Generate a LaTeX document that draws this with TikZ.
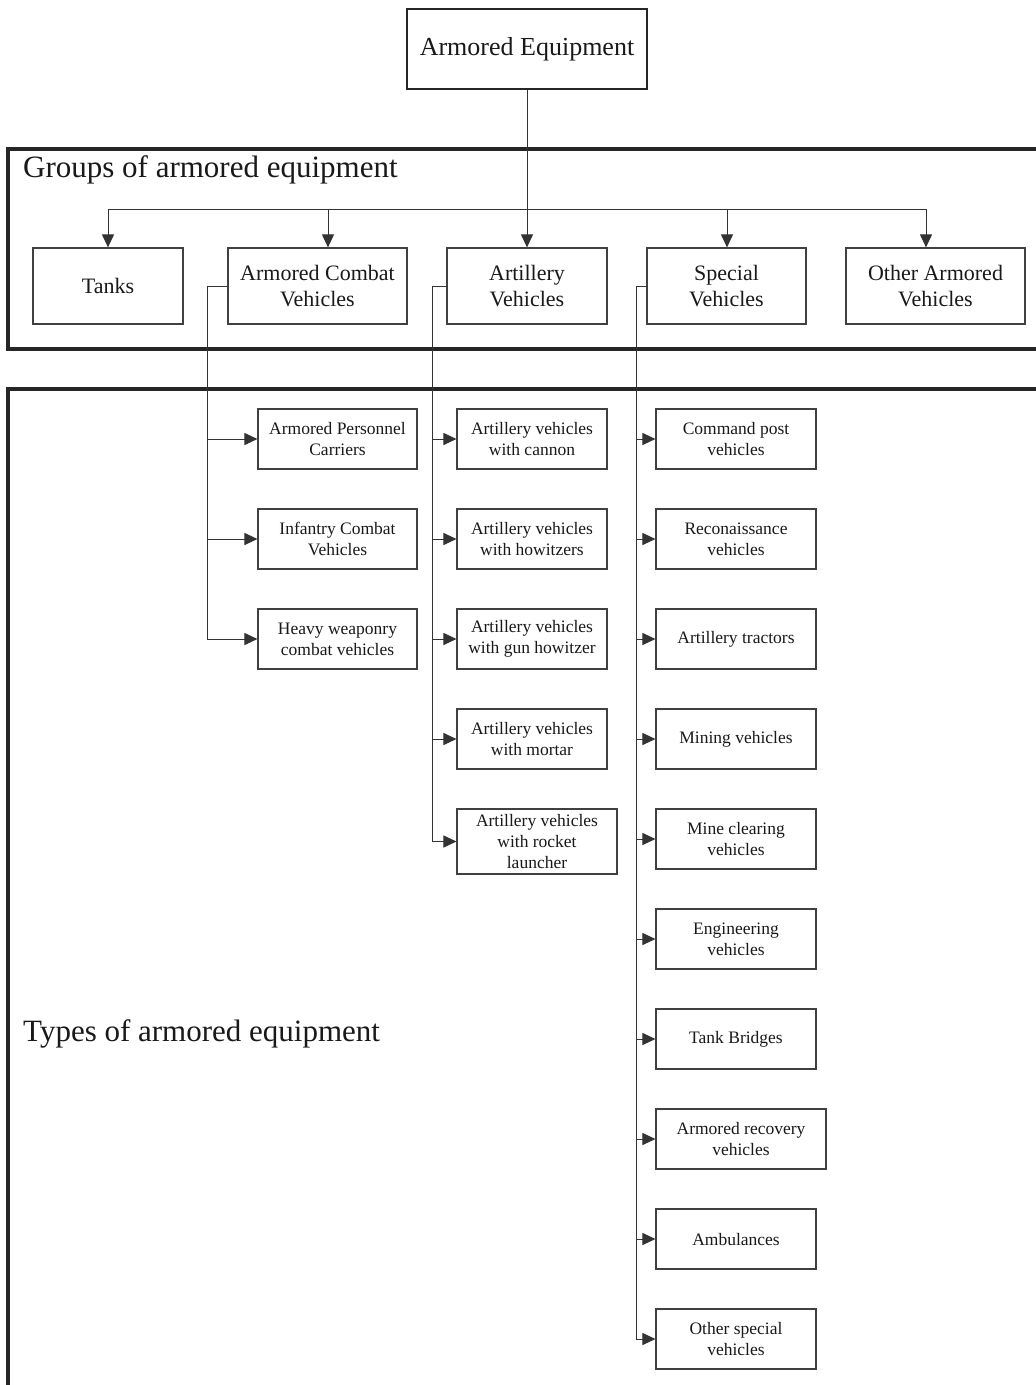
\documentclass[tikz,border=0pt]{standalone}
\usepackage{fontspec}
\setmainfont{Liberation Serif}
\usetikzlibrary{arrows.meta}

\begin{document}
\begin{tikzpicture}[x=1pt,y=-1pt]
        \tikzstyle{every node}+=[inner sep=0pt, text=black!90]
        \tikzstyle{grp}=[draw=black!75, line width=1.2pt, minimum height=76pt, align=center, font=\fontsize{22pt}{26pt}\selectfont]
        \tikzstyle{kind}=[draw=black!75, line width=1.1pt, minimum width=160pt, minimum height=60pt, align=center, font=\fontsize{17.5pt}{20.8pt}\selectfont]
        \tikzstyle{link}=[black!80, line width=1pt]
        \tikzstyle{arr}=[link, -{Triangle[length=13pt,width=12pt]}]
        \tikzstyle{frame}=[black!85, line width=3.2pt]
        \tikzstyle{caption}=[anchor=base west, font=\fontsize{31pt}{37pt}\selectfont]
        \useasboundingbox (0,0) rectangle (1036,1385);
        % frames
        \draw [frame] (1036,149) -- (8,149) -- (8,349) -- (1036,349);
        \draw [frame] (1036,389) -- (8,389) -- (8,1390);
        \node [caption] (grpcap) at (23,177) {Groups of armored equipment};
        \node [caption] (typcap) at (23,1041) {Types of armored equipment};
        % top
        \node [draw=black!85, line width=1.8pt, minimum width=240pt, minimum height=80pt, font=\fontsize{26pt}{31pt}\selectfont] (arm) at (527,49) {Armored Equipment};
        % groups
        \node [grp, minimum width=150pt] (tnk) at (108,286) {Tanks};
        \node [grp, minimum width=179pt] (acv) at (317.5,286) {Armored Combat\\Vehicles};
        \node [grp, minimum width=160pt] (art) at (527,286) {Artillery\\Vehicles};
        \node [grp, minimum width=159pt] (spv) at (726.5,286) {Special\\Vehicles};
        \node [grp, minimum width=179pt] (oav) at (935.5,286) {Other Armored\\Vehicles};
        % types
        \node [kind, minimum width=159pt] (apc) at (337.5,439) {Armored Personnel\\Carriers};
        \node [kind, minimum width=159pt] (icv) at (337.5,539) {Infantry Combat\\Vehicles};
        \node [kind, minimum width=159pt] (hwc) at (337.5,639) {Heavy weaponry\\combat vehicles};
        \node [kind, minimum width=150pt] (avc) at (532,439) {Artillery vehicles\\with cannon};
        \node [kind, minimum width=150pt] (avh) at (532,539) {Artillery vehicles\\with howitzers};
        \node [kind, minimum width=150pt] (avg) at (532,639) {Artillery vehicles\\with gun howitzer};
        \node [kind, minimum width=150pt] (avm) at (532,739) {Artillery vehicles\\with mortar};
        \node [kind, minimum height=65pt] (avr) at (537,841.5) {Artillery vehicles\\with rocket\\launcher};
        \node [kind] (cpv) at (736,439) {Command post\\vehicles};
        \node [kind] (rcv) at (736,539) {Reconaissance\\vehicles};
        \node [kind] (atr) at (736,639) {Artillery tractors};
        \node [kind] (mnv) at (736,739) {Mining vehicles};
        \node [kind] (mcv) at (736,839) {Mine clearing\\vehicles};
        \node [kind] (env) at (736,939) {Engineering\\vehicles};
        \node [kind] (tbr) at (736,1039) {Tank Bridges};
        \node [kind, minimum width=170pt] (arv) at (741,1139) {Armored recovery\\vehicles};
        \node [kind] (amb) at (736,1239) {Ambulances};
        \node [kind] (osv) at (736,1339) {Other special\\vehicles};
        % bus to groups
        \coordinate (b1) at (108,209);
        \coordinate (b2) at (328,209);
        \coordinate (b4) at (727,209);
        \coordinate (b5) at (926,209);
        \draw [link] (b1) -- (b5);
        \draw [arr] (arm.south) -- (art.north);
        \foreach \b/\n in {b1/tnk,b2/acv,b4/spv,b5/oav}
            \draw [arr] (\b) -- (\b |- \n.north);
        % trunks
        \coordinate (ta) at (207.5,286);
        \coordinate (tb) at (432.5,286);
        \coordinate (tc) at (636.5,286);
        \draw [arr] (acv.west) -- (ta) |- (hwc.west);
        \foreach \n in {apc,icv}
            \draw [arr] (ta |- \n.west) -- (\n.west);
        \draw [arr] (art.west) -- (tb) |- (avr.west);
        \foreach \n in {avc,avh,avg,avm}
            \draw [arr] (tb |- \n.west) -- (\n.west);
        \draw [arr] (spv.west) -- (tc) |- (osv.west);
        \foreach \n in {cpv,rcv,atr,mnv,mcv,env,tbr,arv,amb}
            \draw [arr] (tc |- \n.west) -- (\n.west);
    \end{tikzpicture}
\end{document}
